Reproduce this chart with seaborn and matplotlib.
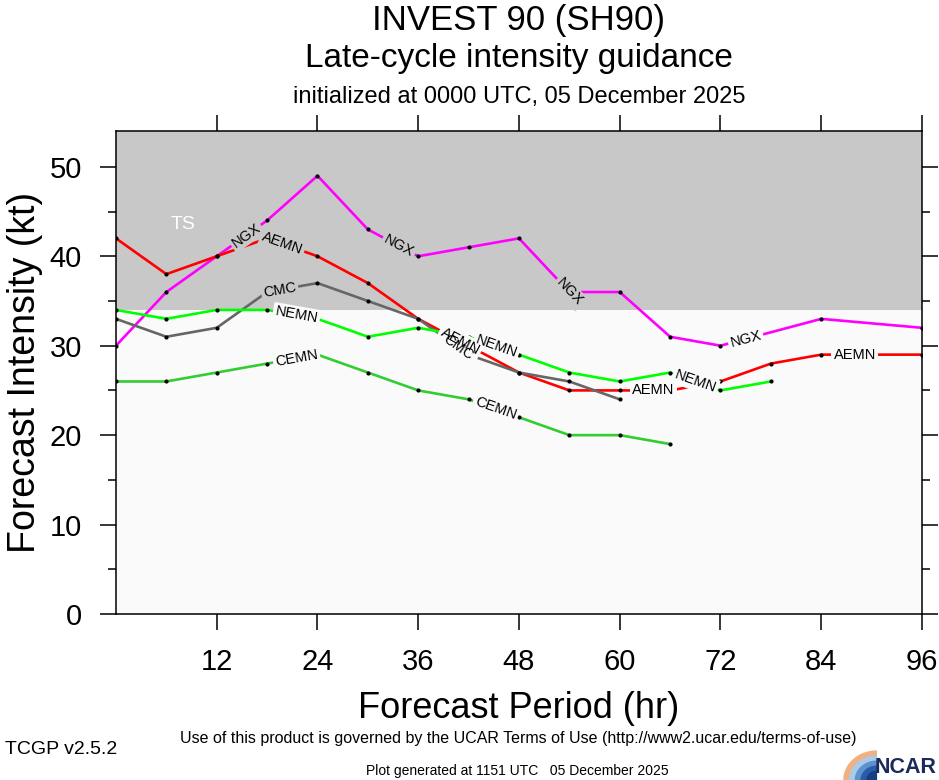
import matplotlib
matplotlib.use("Agg")
import matplotlib.pyplot as plt
import numpy as np
import pandas as pd
import seaborn as sns

# forecast hours and intensities (kt) for each model
ngx_hours = [0, 6, 12, 18, 24, 30, 36, 42, 48, 54, 60, 66, 72, 84, 96]
ngx_kt = [30, 36, 40, 44, 49, 43, 40, 41, 42, 36, 36, 31, 30, 33, 32]
aemn_hours = [0, 6, 12, 18, 24, 30, 36, 42, 48, 54, 60, 66, 72, 78, 84, 90, 96]
aemn_kt = [42, 38, 40, 42, 40, 37, 33, 30, 27, 25, 25, 25, 26, 28, 29, 29, 29]
cmc_hours = [0, 6, 12, 18, 24, 30, 36, 42, 48, 54, 60]
cmc_kt = [33, 31, 32, 36, 37, 35, 33, 29, 27, 26, 24]
nemn_hours = [0, 6, 12, 18, 24, 30, 36, 42, 48, 54, 60, 66, 72, 78]
nemn_kt = [34, 33, 34, 34, 33, 31, 32, 31, 29, 27, 26, 27, 25, 26]
cemn_hours = [0, 6, 12, 18, 24, 30, 36, 42, 48, 54, 60, 66]
cemn_kt = [26, 26, 27, 28, 29, 27, 25, 24, 22, 20, 20, 19]

models = ["NGX", "AEMN", "CMC", "NEMN", "CEMN"]
colors = ["#ff00ff", "#ff0000", "#666666", "#00ff00", "#33cc33"]
# hours at which the inline model labels sit
label_hours = {
    "NGX": [15.5, 33.7, 54, 75],
    "AEMN": [19.8, 41, 64, 88],
    "CMC": [19.5, 40.7],
    "NEMN": [21.5, 45.3, 69],
    "CEMN": [21.5, 45.2],
}
ts_threshold = 34
x_ticks = [12, 24, 36, 48, 60, 72, 84, 96]

series = {
    "NGX": (ngx_hours, ngx_kt),
    "AEMN": (aemn_hours, aemn_kt),
    "CMC": (cmc_hours, cmc_kt),
    "NEMN": (nemn_hours, nemn_kt),
    "CEMN": (cemn_hours, cemn_kt),
}
df = pd.concat(
    [pd.DataFrame({"hour": h, "kt": v, "model": m}) for m, (h, v) in series.items()],
    ignore_index=True,
)

sns.set_style("white")
plt.rcParams["font.family"] = ["Liberation Sans", "DejaVu Sans"]
plt.rcParams.update({"text.color": "black", "axes.labelcolor": "black",
                     "xtick.color": "black", "ytick.color": "black"})

fig = plt.figure(figsize=(9.39, 7.8), dpi=100)
ax = fig.add_axes([0.1235, 0.2128, 0.8584, 0.6192])
ax.set_xlim(0, 96)
ax.set_ylim(0, 54)
ax.set_facecolor("#fafafa")
ax.axhspan(ts_threshold, 54, color="#c8c8c8", zorder=0, lw=0)
ax.text(8.0, 43.6, "TS", color="white", fontsize=14, ha="center", va="center")

sns.lineplot(
    data=df, x="hour", y="kt", hue="model", hue_order=models,
    palette=colors, linewidth=1.9, legend=False, ax=ax, zorder=2,
)
sns.scatterplot(
    data=df, x="hour", y="kt", color="black", s=9, linewidth=0,
    legend=False, ax=ax, zorder=3,
)

# inline labels rotated along the line: gap boxes first, then the text on top
for m in models:
    h, v = series[m]
    for lh in label_hours[m]:
        lv = np.interp(lh, h, v)
        i = min(np.searchsorted(h, lh), len(h) - 1)
        p0 = ax.transData.transform((h[i - 1], v[i - 1]))
        p1 = ax.transData.transform((h[i], v[i]))
        ang = np.degrees(np.arctan2(p1[1] - p0[1], p1[0] - p0[0]))
        bg = "#c8c8c8" if lv > ts_threshold else "#fafafa"
        kw = dict(fontsize=10.5, rotation=ang, rotation_mode="anchor",
                  ha="center", va="center")
        ax.text(lh, lv, m, color="none", zorder=4,
                bbox=dict(boxstyle="square,pad=0.15", fc=bg, ec="none"), **kw)
        ax.text(lh, lv, m, color="black", zorder=5, **kw)

ax.set_xticks(x_ticks)
ax.set_yticks(range(0, 51, 10))
ax.set_yticks(range(5, 51, 10), minor=True)
ax.tick_params(which="both", direction="out", width=1.1, colors="black",
               top=True, right=True, bottom=True, left=True, labelsize=21, pad=13)
ax.tick_params(which="major", length=11.5)
ax.tick_params(which="minor", length=5.8)
ax.tick_params(axis="x", which="minor", bottom=False, top=False)
for s in ax.spines.values():
    s.set_color("black")
    s.set_linewidth(1.1)

ax.set_xlabel("Forecast Period (hr)", fontsize=26, labelpad=11)
ax.set_ylabel("Forecast Intensity (kt)", fontsize=27, labelpad=5)

fig.text(0.5527, 0.974, "INVEST 90 (SH90)", fontsize=25, ha="center", va="center")
fig.text(0.5527, 0.925, "Late-cycle intensity guidance", fontsize=24, ha="center", va="center")
fig.text(0.5527, 0.876, "initialized at 0000 UTC, 05 December 2025", fontsize=17,
         ha="center", va="center")

fig.text(0.552, 0.0526, "Use of this product is governed by the UCAR Terms of Use "
         "(http://www2.ucar.edu/terms-of-use)", fontsize=11.5, ha="center", va="center")
fig.text(0.005, 0.0385, "TCGP v2.5.2", fontsize=14, ha="left", va="center")
fig.text(0.551, 0.0115, "Plot generated at 1151 UTC   05 December 2025", fontsize=10,
         ha="center", va="center")

# NCAR logo: nested quarter swoosh in blues, then the wordmark
t = np.linspace(0, np.pi / 2, 30)
cx = 0.934
for k, c in enumerate(["#f0b080", "#a9cbea", "#5e92cc", "#2a5ca8", "#173f80"]):
    f = 1.0 - 0.17 * k
    arc = np.column_stack([cx - 0.036 * f * np.cos(t), 0.038 * f * np.sin(t)])
    fig.patches.append(plt.Polygon(
        np.vstack([arc, [[cx, 0.0]]]), closed=True,
        transform=fig.transFigure, fc=c, ec="none", figure=fig))
fig.text(0.997, 0.016, "NCAR", fontsize=15.5, fontweight="bold", color="#1a2a5a",
         ha="right", va="center")

fig.savefig("out.png", dpi=100)
